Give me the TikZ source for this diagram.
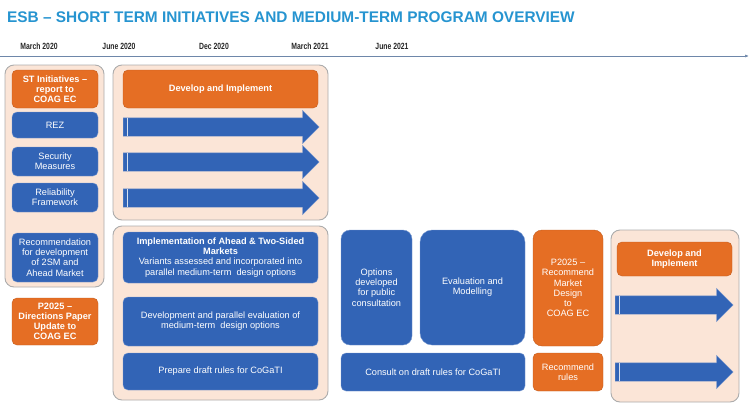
\documentclass[tikz,border=0pt]{standalone}
\usepackage{fontspec}
\setmainfont{Liberation Sans}
\newfontfamily\narrowfont[FakeStretch=0.76]{Liberation Sans}
\usetikzlibrary{shapes.arrows,arrows.meta}

\definecolor{esbblue}{RGB}{50,100,182}
\definecolor{esborange}{RGB}{229,110,36}
\definecolor{peach}{RGB}{251,229,215}
\definecolor{titleblue}{RGB}{38,148,208}
\definecolor{axisgray}{RGB}{110,135,170}

\begin{document}
\begin{tikzpicture}[x=1pt, y=-1pt, every node/.style={inner sep=1pt},
    panel/.style={rectangle, draw=gray!65, fill=peach, rounded corners=9pt, line width=0.9pt},
    obox/.style={rectangle, fill=esborange, draw=esborange!85!black, rounded corners=5pt, text=white,
      align=center, font=\fontsize{9.2}{10.2}\selectfont\bfseries},
    bbox/.style={rectangle, fill=esbblue, draw=esbblue!65!white, rounded corners=5pt, text=white,
      align=center, font=\fontsize{9.2}{10.2}\selectfont},
    barrow/.style={single arrow, anchor=tail, fill=esbblue, draw=esbblue!70!white, inner xsep=0pt, inner ysep=9pt,
      single arrow head extend=7.5pt, single arrow tip angle=90},
    datelbl/.style={font=\narrowfont\fontsize{9}{10}\selectfont\bfseries, text=black!85}]
    \useasboundingbox (0,0) rectangle (750,410);

    % title and time line
    \node (title) at (6,17) [anchor=west, text=titleblue, font=\fontsize{15.4}{17}\selectfont\bfseries]
      {ESB -- SHORT TERM INITIATIVES AND MEDIUM-TERM PROGRAM OVERVIEW};
    \node (d1) at (39,46) [datelbl] {March 2020};
    \node (d2) at (119,46) [datelbl] {June 2020};
    \node (d3) at (214,46) [datelbl] {Dec 2020};
    \node (d4) at (310,46) [datelbl] {March 2021};
    \node (d5) at (392,46) [datelbl] {June 2021};
    \coordinate (axs) at (0,56);
    \coordinate (axe) at (749,56);
    \draw[axisgray, line width=0.7pt, -{Latex[length=4pt,width=3pt]}] (axs) -- (axe);

    % short term column
    \node (stpanel) at (54.5,176) [panel, minimum width=99, minimum height=222] {};
    \node (st) at (55,89) [obox, minimum width=86, minimum height=38] {ST Initiatives --\\report to\\COAG EC};
    \node (rez) at (55,125) [bbox, minimum width=86, minimum height=26] {REZ};
    \node (sec) at (55,161.5) [bbox, minimum width=86, minimum height=29] {Security\\Measures};
    \node (rel) at (55,197.5) [bbox, minimum width=86, minimum height=29] {Reliability\\Framework};
    \node (rec) at (55,257.5) [bbox, minimum width=86, minimum height=49]
      {Recommendation\\for development\\of 2SM and\\Ahead Market};
    \node (p25a) at (55,321.5) [obox, minimum width=86, minimum height=47]
      {P2025 --\\Directions Paper\\Update to\\COAG EC};

    % develop and implement (top)
    \node (toppanel) at (220.5,142.5) [panel, minimum width=215, minimum height=155] {};
    \node (dev1) at (220.5,89) [obox, minimum width=195, minimum height=38] {Develop and Implement};
    \node (ar1) at (123,127) [barrow, minimum height=196] {};
    \node (ar2) at (123,162) [barrow, minimum height=196] {};
    \node (ar3) at (123,198) [barrow, minimum height=196] {};
    \draw[white!80!esbblue, line width=0.8pt] ([xshift=4]ar1.tail) ++(0,-9) -- ++(0,18);
    \draw[white!80!esbblue, line width=0.8pt] ([xshift=4]ar2.tail) ++(0,-9) -- ++(0,18);
    \draw[white!80!esbblue, line width=0.8pt] ([xshift=4]ar3.tail) ++(0,-9) -- ++(0,18);

    % medium term (bottom)
    \node (botpanel) at (220.5,313) [panel, minimum width=215, minimum height=174] {};
    \node (impl) at (220.5,257.5) [bbox, minimum width=195, minimum height=51]
      {\textbf{Implementation of Ahead \& Two-Sided}\\\textbf{Markets}\\Variants assessed and incorporated into\\parallel medium-term\ \ design options};
    \node (devpar) at (220.5,321.5) [bbox, minimum width=195, minimum height=49]
      {Development and parallel evaluation of\\medium-term\ \ design options};
    \node (prep) at (220.5,371.5) [bbox, minimum width=195, minimum height=37] {Prepare draft rules for CoGaTI};

    \node (opts) at (376.5,287.5) [bbox, rounded corners=9pt, minimum width=71, minimum height=115]
      {Options\\developed\\for public\\consultation};
    \node (eval) at (472.5,287.5) [bbox, rounded corners=12pt, minimum width=105, minimum height=115]
      {Evaluation and\\Modelling};
    \node (cons) at (433,372) [bbox, minimum width=184, minimum height=38] {Consult on draft rules for CoGaTI};

    \node (p25b) at (568,288) [obox, font=\fontsize{9.2}{10.2}\selectfont, rounded corners=9pt,
      minimum width=70, minimum height=116] {P2025 --\\Recommend\\Market\\Design\\to\\COAG EC};
    \node (recr) at (568,372) [obox, font=\fontsize{9.2}{10.2}\selectfont, minimum width=70, minimum height=38]
      {Recommend\\rules};

    % develop and implement (right)
    \node (rpanel) at (675,316) [panel, minimum width=128, minimum height=172] {};
    \node (dev2) at (674.5,259) [obox, minimum width=115, minimum height=34] {Develop and\\Implement};
    \node (ar4) at (615,305) [barrow, minimum height=118] {};
    \node (ar5) at (615,372) [barrow, minimum height=118] {};
    \draw[white!80!esbblue, line width=0.8pt] ([xshift=4]ar4.tail) ++(0,-9) -- ++(0,18);
    \draw[white!80!esbblue, line width=0.8pt] ([xshift=4]ar5.tail) ++(0,-9) -- ++(0,18);
\end{tikzpicture}
\end{document}
